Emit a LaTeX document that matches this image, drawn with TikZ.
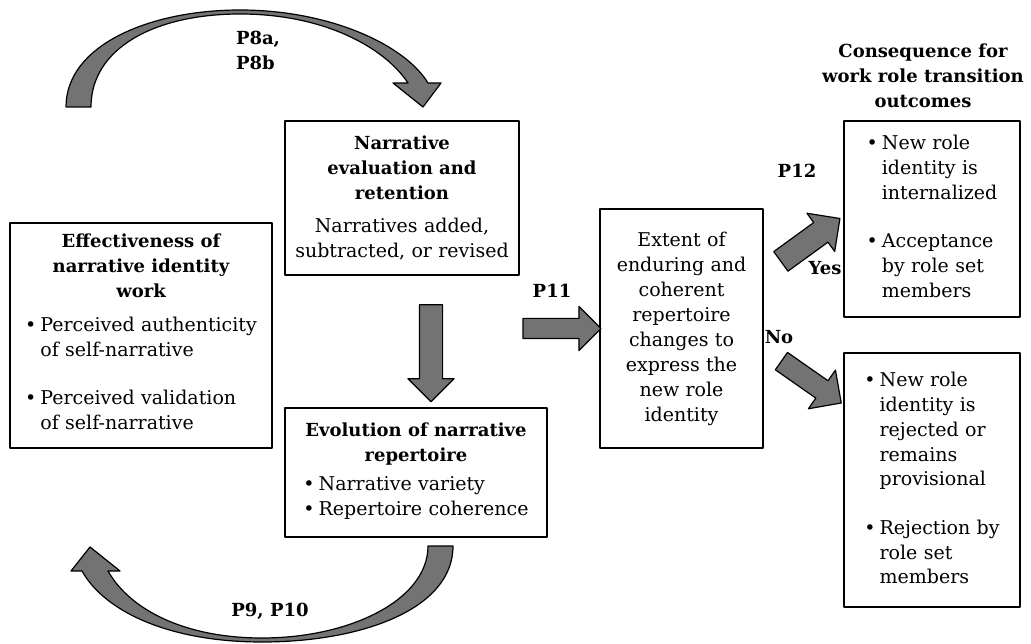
\documentclass[tikz,border=0pt]{standalone}
\usepackage{fontspec}
\setmainfont{DejaVu Serif}
\usetikzlibrary{shapes.arrows}

\newcommand{\hd}{\fontsize{18}{25}\selectfont\bfseries}
\newcommand{\txt}{\fontsize{19}{25}\selectfont}

\begin{document}
\begin{tikzpicture}[
        x = 1pt, y = -1pt,
        line join=round,
        every node/.style = {font=\txt},
        box/.style = {draw, line width=1.5pt, inner xsep=4pt, inner ysep=0pt, align=center},
        lbl/.style = {font=\hd, inner sep=0pt},
        blockarrow/.style = {single arrow, draw, line width=1.2pt, fill=black!55, inner xsep=0pt},
        curvearrow/.style = {draw, line width=1.2pt, fill=black!55}
    ]
    \useasboundingbox (0,0) rectangle (1031,644);

    \node[box, minimum width=234pt, minimum height=154pt, text width=226pt] (eval) at (402,198)
        {{\hd Narrative\\evaluation and\\retention}\\[8pt]Narratives added,\\subtracted, or revised};
    \node[box, minimum width=262pt, minimum height=225pt, text width=254pt] (effect) at (141,335.5)
        {{\hd Effectiveness of\\narrative identity\\work}\\[9pt]
        \begin{tabular}[t]{@{}l@{\hspace{4pt}}l@{}}
            \textbullet & Perceived authenticity\\
                        & of self-narrative\\[23pt]
            \textbullet & Perceived validation\\
                        & of self-narrative
        \end{tabular}};
    \node[box, minimum width=262pt, minimum height=129pt, text width=254pt] (evol) at (416,472.5)
        {{\hd Evolution of narrative\\repertoire}\\[4pt]
        \begin{tabular}[t]{@{}l@{\hspace{4pt}}l@{}}
            \textbullet & Narrative variety\\
            \textbullet & Repertoire coherence
        \end{tabular}};
    \node[box, minimum width=163pt, minimum height=239pt, text width=155pt] (extent) at (681.5,328.5)
        {Extent of\\enduring and\\coherent\\repertoire\\changes to\\express the\\new role\\identity};
    \node[box, minimum width=176pt, minimum height=196pt, text width=168pt] (accept) at (932,219)
        {\begin{tabular}[t]{@{}l@{\hspace{4pt}}l@{}}
            \textbullet & New role\\
                        & identity is\\
                        & internalized\\[23pt]
            \textbullet & Acceptance\\
                        & by role set\\
                        & members
        \end{tabular}};
    \node[box, minimum width=176pt, minimum height=254pt, text width=168pt] (reject) at (932,480)
        {\begin{tabular}[t]{@{}l@{\hspace{4pt}}l@{}}
            \textbullet & New role\\
                        & identity is\\
                        & rejected or\\
                        & remains\\
                        & provisional\\[23pt]
            \textbullet & Rejection by\\
                        & role set\\
                        & members
        \end{tabular}};

    \node[lbl, align=center] (outcomes) at (923,76) {Consequence for\\work role transition\\outcomes};

    \draw[curvearrow] (66,107) .. controls (66,45) and (150,10) .. (240,10)
        .. controls (330,10) and (405,45) .. (428,83) -- (441,83) -- (423,107) -- (393,83) -- (408,83)
        .. controls (385,48) and (325,14) .. (240,14)
        .. controls (155,14) and (91,48) .. (91,107) -- cycle;
    \draw[curvearrow] (453,546) .. controls (453,610) and (360,642) .. (262,642)
        .. controls (170,642) and (105,612) .. (82,571) -- (71,571) -- (90,547) -- (120,571) -- (108,571)
        .. controls (130,610) and (185,638) .. (262,638)
        .. controls (350,638) and (428,600) .. (428,546) -- cycle;

    \node[blockarrow, rotate=-90, inner ysep=11pt, minimum height=97pt, minimum width=45pt, single arrow head extend=11.5pt] (down) at (431,347.5) {};
    \node[blockarrow, inner ysep=9.5pt, minimum height=78pt, minimum width=43pt, single arrow head extend=12pt] (toextent) at (557,328.5) {};
    \node[blockarrow, rotate=36, inner ysep=11.5pt, minimum height=73pt, minimum width=46pt, single arrow head extend=11.5pt] (yesarrow) at (805.5,243.5) {};
    \node[blockarrow, rotate=-35, inner ysep=10pt, minimum height=73pt, minimum width=46pt, single arrow head extend=13pt] (noarrow) at (807,379) {};

    \node[lbl, align=left] (p8) at (258,50) {P8a,\\P8b};
    \node[lbl] (p9) at (270,611) {P9, P10};
    \node[lbl] (p11) at (552,291) {P11};
    \node[lbl] (p12) at (797,171) {P12};
    \node[lbl] (yes) at (825,268) {Yes};
    \node[lbl] (no) at (779,337) {No};
\end{tikzpicture}
\end{document}
